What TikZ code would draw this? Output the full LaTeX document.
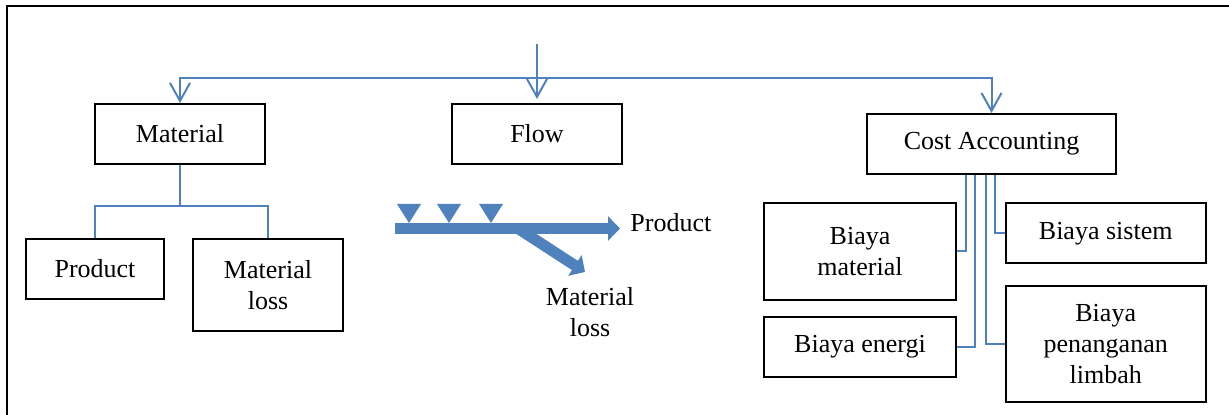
\documentclass[tikz,border=0pt]{standalone}
\usepackage{fontspec}
\setmainfont{Liberation Serif}
\usetikzlibrary{arrows.meta, positioning}
\definecolor{flowblue}{RGB}{79,129,189}

\begin{document}
\begin{tikzpicture}[x=0.5pt, y=-0.5pt,
   cell/.style={draw, line width=1pt, align=center, inner sep=0pt, font=\fontsize{13}{15.5}\selectfont},
   word/.style={align=center, inner sep=0pt, font=\fontsize{13}{15.5}\selectfont},
   wire/.style={flowblue, line width=1pt},
   drop/.style={wire, -{Straight Barb[length=9pt, width=10pt, line width=1pt]}},
   pipe/.style={flowblue, line width=5.5pt, -{Triangle[length=6pt, width=12pt]}}]
   \useasboundingbox (0,0) rectangle (1229,415);
   \draw[line width=1pt] (1229,6) -- (7,6) -- (7,415);

   \node (material)[cell, minimum width=85pt, minimum height=30pt] at (180,134) {Material};
   \node (flow)[cell, minimum width=85pt, minimum height=30pt] at (537,134) {Flow};
   \node (cost)[cell, minimum width=124.5pt, minimum height=30pt] at (991.5,144) {Cost Accounting};

   \node (product)[cell, minimum width=69pt, minimum height=30pt] at (95,269) {Product};
   \node (mloss)[cell, minimum width=75pt, minimum height=46pt] at (268,285) {Material\\loss};

   \node (bmat)[cell, minimum width=96pt, minimum height=48.5pt] at (860,251.5) {Biaya\\material};
   \node (benergi)[cell, minimum width=96pt, minimum height=30.3pt] at (860,347) {Biaya energi};
   \node (bsistem)[cell, minimum width=100pt, minimum height=30pt] at (1105.7,233.3) {Biaya sistem};
   \node (blimbah)[cell, minimum width=100pt, minimum height=58pt] at (1105.7,343.7) {Biaya\\penanganan\\limbah};

   % top split
   \coordinate (top) at (537,44);
   \coordinate (split) at (537,78);
   \draw[drop, shorten >=2pt] (top) -- (flow);
   \draw[drop] (split) -| (material);
   \draw[drop] (split) -| (cost);

   % material tree
   \coordinate (mfork) at (180,206);
   \draw[wire] (material) -- (mfork);
   \draw[wire] (product.north) |- (mfork) -| (mloss.north);

   % cost accounting links
   \draw[wire] ([xshift=-12.75pt]cost.south) |- (bmat);
   \draw[wire] ([xshift=-8.25pt]cost.south) |- (benergi);
   \draw[wire] ([xshift=-2.75pt]cost.south) |- (blimbah);
   \draw[wire] ([xshift=1.75pt]cost.south) |- (bsistem);

   % flow sketch
   \coordinate (fstart) at (395,228.5);
   \coordinate (fend) at (620,228.5);
   \coordinate (fsplit) at (518,228.5);
   \coordinate (fdown) at (585,272);
   \draw[pipe] (fstart) -- (fend);
   \draw[pipe] (fsplit) -- (fdown);
   \foreach \tx in {409,449,491}
      \fill[flowblue] (\tx-12,204) -- (\tx+12,204) -- (\tx,223) -- cycle;

   \node (fprod)[word, right=5pt of fend, yshift=3pt] {Product};
   \node (floss)[word] at (590,312) {Material\\loss};
\end{tikzpicture}
\end{document}
